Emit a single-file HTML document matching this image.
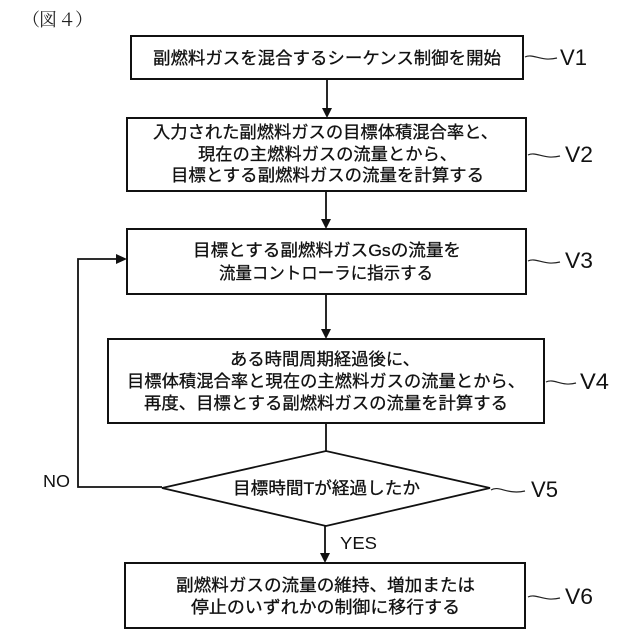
<!DOCTYPE html>
<html><head><meta charset="utf-8">
<style>html,body{margin:0;padding:0;background:#fff}svg{display:block}
.j{font-family:"Liberation Sans","Noto Sans CJK JP",sans-serif;font-size:17px;fill:#111;stroke:#111;stroke-width:.3}
.l{font-family:"Liberation Sans",sans-serif;font-size:22px;fill:#111}
.s{font-family:"Liberation Sans",sans-serif;font-size:17.5px;fill:#111}
.t{font-family:"Liberation Serif","Noto Serif CJK SC",serif;font-size:18px;fill:#222}
</style></head><body>
<svg width="640" height="640" viewBox="0 0 640 640" xmlns="http://www.w3.org/2000/svg">
<g fill="#fff" stroke="#111" stroke-width="2">
<rect x="131" y="36" width="392" height="43"/>
<rect x="127" y="118" width="399" height="73"/>
<rect x="127" y="229" width="399" height="65"/>
<rect x="108" y="339" width="436" height="84"/>
<polygon points="162,488 326,451 490,488 326,526" stroke-width="1.8"/>
<rect x="125" y="563" width="400" height="65"/>
</g>
<g fill="none" stroke="#111" stroke-width="1.8">
<path d="M327 79V112M326 191V223M326 294V333M326 423V451M325 526V557"/>
<path d="M162 487H78V259H120"/>
</g>
<g fill="#111">
<polygon points="322,108 332,108 327,118"/>
<polygon points="321,219 331,219 326,229"/>
<polygon points="321,329 331,329 326,339"/>
<polygon points="320,553 330,553 325,563"/>
<polygon points="116,254 116,264 127,259"/>
</g>
<g fill="none" stroke="#222" stroke-width="1.2">
<path d="M525 57C533 53 541 62 557 58"/>
<path d="M528 155C536 151 544 160 560 156"/>
<path d="M528 261C536 257 544 266 560 262"/>
<path d="M546 382C554 378 562 387 576 383"/>
<path d="M491 490C499 485 507 495 525 491"/>
<path d="M528 597C536 593 544 602 560 598"/>
</g>
<text class="t" x="22 39 58 75" y="26">（図４）</text>
<g class="j">
<text x="153" y="64" textLength="348" lengthAdjust="spacingAndGlyphs">副燃料ガスを混合するシーケンス制御を開始</text>
<text x="153" y="138" textLength="345" lengthAdjust="spacingAndGlyphs">入力された副燃料ガスの目標体積混合率と、</text>
<text x="198" y="160" textLength="259" lengthAdjust="spacingAndGlyphs">現在の主燃料ガスの流量とから、</text>
<text x="171" y="181" textLength="313" lengthAdjust="spacingAndGlyphs">目標とする副燃料ガスの流量を計算する</text>
<text x="193" y="256" textLength="268" lengthAdjust="spacingAndGlyphs">目標とする副燃料ガスGsの流量を</text>
<text x="219" y="279" textLength="214" lengthAdjust="spacingAndGlyphs">流量コントローラに指示する</text>
<text x="230" y="365" textLength="190" lengthAdjust="spacingAndGlyphs">ある時間周期経過後に、</text>
<text x="127" y="387" textLength="398" lengthAdjust="spacingAndGlyphs">目標体積混合率と現在の主燃料ガスの流量とから、</text>
<text x="144" y="409" textLength="364" lengthAdjust="spacingAndGlyphs">再度、目標とする副燃料ガスの流量を計算する</text>
<text x="233" y="494" textLength="187" lengthAdjust="spacingAndGlyphs">目標時間Tが経過したか</text>
<text x="176" y="591" textLength="299" lengthAdjust="spacingAndGlyphs">副燃料ガスの流量の維持、増加または</text>
<text x="191" y="613" textLength="269" lengthAdjust="spacingAndGlyphs">停止のいずれかの制御に移行する</text>
</g>
<text class="l" x="560" y="65" textLength="27" lengthAdjust="spacingAndGlyphs">V1</text>
<text class="l" x="565" y="162" textLength="28" lengthAdjust="spacingAndGlyphs">V2</text>
<text class="l" x="565" y="268" textLength="28" lengthAdjust="spacingAndGlyphs">V3</text>
<text class="l" x="580" y="389" textLength="29" lengthAdjust="spacingAndGlyphs">V4</text>
<text class="l" x="531" y="497" textLength="27" lengthAdjust="spacingAndGlyphs">V5</text>
<text class="l" x="565" y="604" textLength="28" lengthAdjust="spacingAndGlyphs">V6</text>
<text class="s" x="43" y="487" textLength="27" lengthAdjust="spacingAndGlyphs">NO</text>
<text class="s" x="340" y="549" textLength="37" lengthAdjust="spacingAndGlyphs">YES</text>
</svg>
</body></html>
